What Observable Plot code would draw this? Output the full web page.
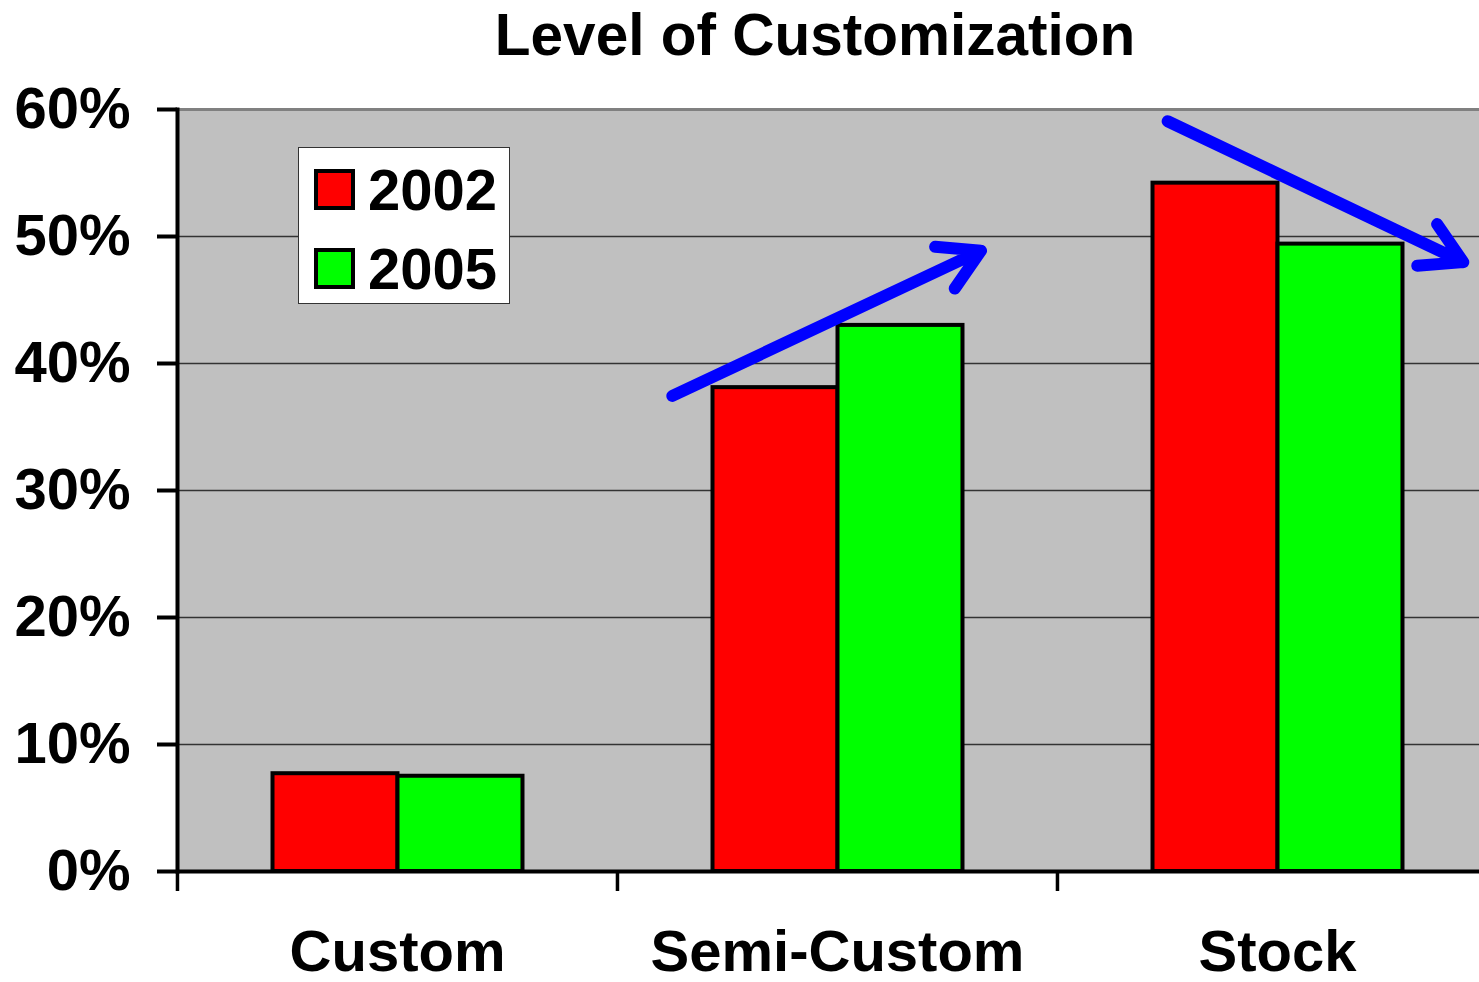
<!DOCTYPE html>
<html>
<head>
<meta charset="utf-8">
<script src="https://cdn.jsdelivr.net/npm/d3@7"></script>
<script src="https://cdn.jsdelivr.net/npm/@observablehq/plot@0.6"></script>
<style>
  html, body { margin: 0; padding: 0; background: #fff; overflow: hidden; }
  body { font-family: "Liberation Sans", Arial, sans-serif; color: #000; }
  #wrap { position: relative; width: 1479px; height: 982px; }
  #title { height: 80px; line-height: 70px; font-size: 58.5px; font-weight: bold; text-align: center;
           padding-left: 151px; box-sizing: border-box; white-space: nowrap; }
  #legend { position: absolute; left: 298px; top: 147px; width: 212px; height: 157px; box-sizing: border-box;
            background: #fff; border: 1.5px solid #333; z-index: 2; }
  .sw { position: absolute; width: 41px; height: 41px; box-sizing: border-box; border: 4px solid #000; }
  .lt { position: absolute; font-size: 58px; line-height: 58px; font-weight: bold; white-space: nowrap; }
</style>
</head>
<body>
<div id="wrap">
  <div id="title"></div>
  <div id="chart"></div>
  <div id="legend"></div>
</div>
<script>
// ---- Data ----
const titleText = "Level of Customization";
const categories = ["Custom", "Semi-Custom", "Stock"];
const years = ["2002", "2005"];
const values2002 = [7.7, 38.1, 54.2];
const values2005 = [7.5, 43.0, 49.4];
const yTicks = [0, 10, 20, 30, 40, 50, 60];
const gridTicks = [10, 20, 30, 40, 50];
const topTick = [60];
const yearColors = ["#ff0000", "#00ff00"];
// trend arrows (annotation), y in percent at the 2002 / 2005 bar centres
const arrowCats = ["Semi-Custom", "Stock"];
const arrowY2002 = [41.27, 57.28];
const arrowY2005 = [45.90, 52.59];

// ---- Build tables ----
const seriesValues = [values2002, values2005];
const data = categories.flatMap((c, i) => years.map((y, j) => ({cat: c, year: y, value: seriesValues[j][i]})));
const arrows = arrowCats.map((c, i) => ({cat: c, from: years[0], to: years[1], y1: arrowY2002[i], y2: arrowY2005[i]}));

document.getElementById("title").textContent = titleText;

// legend
const legend = document.getElementById("legend");
years.forEach((y, i) => {
  const sw = document.createElement("div");
  sw.className = "sw";
  sw.style.left = "15px";
  sw.style.top = (21 + i * 78.5) + "px";
  sw.style.background = yearColors[i];
  legend.appendChild(sw);
  const t = document.createElement("div");
  t.className = "lt";
  t.style.left = "69px";
  t.style.top = (13 + i * 78.5) + "px";
  t.textContent = y;
  legend.appendChild(t);
});

const fxRange = [176.5, 1496.7];
const step = (fxRange[1] - fxRange[0]) / categories.length;
const font = {fontSize: 58, fontWeight: "bold"};
const arrowStyle = {fx: "cat", x1: "from", x2: "to", y1: "y1", y2: "y2", stroke: "#0000ff", strokeWidth: 12,
  headLength: 8, strokeLinecap: "round", strokeLinejoin: "miter"};

const chart = Plot.plot({
  width: 1479,
  height: 902,
  marginTop: 29,
  marginBottom: 111,
  marginLeft: 176.5,
  marginRight: 0,
  style: {fontFamily: "'Liberation Sans', Arial, sans-serif", fontSize: "58px", fontWeight: "bold", color: "#000", background: "transparent", overflow: "visible"},
  fx: {domain: categories, range: fxRange, padding: 0},
  x: {domain: years, paddingInner: 0, paddingOuter: 0.754, axis: null},
  y: {domain: [0, 60]},
  color: {domain: years, range: yearColors},
  marks: [
    Plot.frame({fill: "#c0c0c0", stroke: "#c0c0c0", strokeWidth: 2}),
    Plot.ruleY(gridTicks, {stroke: "#333", strokeWidth: 1.5}),
    Plot.ruleY(topTick, {stroke: "#808080", strokeWidth: 3}),
    Plot.barY(data, {fx: "cat", x: "year", y: "value", fill: "year", stroke: "#000", strokeWidth: 4}),
    Plot.ruleY([0], {stroke: "#000", strokeWidth: 4}),
    Plot.frame({anchor: "left", facetAnchor: "left", stroke: "#000", strokeWidth: 4}),
    Plot.axisY({ticks: yTicks, tickSize: 20, tickPadding: 27, tickFormat: d => d + "%", strokeWidth: 4, label: null, ...font}),
    Plot.axisFx({anchor: "bottom", tickSize: 0, tickPadding: 58, label: null, ...font}),
    Plot.axisFx({anchor: "bottom", tickSize: 20, strokeWidth: 3.5, dx: -step / 2, tickFormat: () => "", label: null}),
    Plot.arrow(arrows.slice(0, 1), {...arrowStyle, insetStart: -114, insetEnd: -89}),
    Plot.arrow(arrows.slice(1, 2), {...arrowStyle, insetStart: -53, insetEnd: -136})
  ]
});
document.getElementById("chart").appendChild(chart);
</script>
</body>
</html>
